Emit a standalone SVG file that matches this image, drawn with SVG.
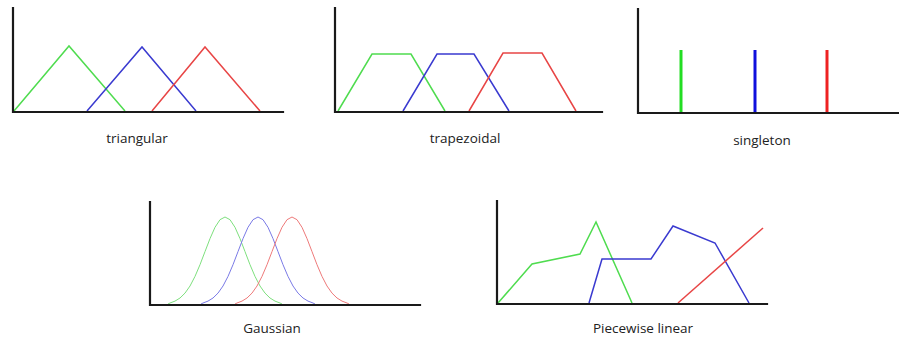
<svg xmlns="http://www.w3.org/2000/svg" xmlns:xlink="http://www.w3.org/1999/xlink" width="899" height="343" viewBox="0 0 899 343">
<style>
.axis{fill:none;stroke:#1a1a1a;stroke-width:2.2;stroke-linecap:square}
.g{fill:none;stroke:#4fdc4f;stroke-width:1.5;stroke-linejoin:miter}
.b{fill:none;stroke:#3a3ad0;stroke-width:1.5}
.r{fill:none;stroke:#e84545;stroke-width:1.5}
.gs{fill:none;stroke-width:1}
.s{stroke-width:3}
.lbl{font-family:"Open Sans","Liberation Sans",sans-serif;font-size:13.5px;fill:#222;text-anchor:middle}
</style>
<defs>
<polyline id="gauss" points="-57,304 -55,303 -50,301.1 -45,298 -40,293.1 -35,286 -30,276.4 -25,264.7 -20,251.6 -15,238.6 -10,227.3 -5,219.7 0,217 5,219.7 10,227.3 15,238.6 20,251.6 25,264.7 30,276.4 35,286 40,293.1 45,298 50,301.1 55,303 57,304"/>
</defs>
<rect width="899" height="343" fill="#fff"/>
<g id="triangular">
<polyline class="g" points="14,111 69,46 125,111"/>
<polyline class="b" points="87,111 142,47 196,111"/>
<polyline class="r" points="152,111 205,47 260,111"/>
<polyline class="axis" points="13,8 13,112 283,112"/>
<text class="lbl" x="137" y="143">triangular</text>
</g>
<g id="trapezoidal">
<polyline class="g" points="338,111 372,54 411,54 445,111"/>
<polyline class="b" points="403,111 437,54 474,54 509,111"/>
<polyline class="r" points="469,111 503,53 542,53 576,111"/>
<polyline class="axis" points="335,8 335,112 602,112"/>
<text class="lbl" x="465" y="143">trapezoidal</text>
</g>
<g id="singleton">
<line class="g s" x1="681" y1="50" x2="681" y2="113" stroke="#22dd22" style="stroke:#22dd22"/>
<line class="b s" x1="755" y1="50" x2="755" y2="113" style="stroke:#1010dd"/>
<line class="r s" x1="827" y1="50" x2="827" y2="113" style="stroke:#ee2222"/>
<polyline class="axis" points="638,9 638,113 899,113"/>
<text class="lbl" x="762" y="145">singleton</text>
</g>
<g id="gaussian">
<use xlink:href="#gauss" href="#gauss" class="gs" stroke="#7ee07e" transform="translate(225,0)"/>
<use xlink:href="#gauss" href="#gauss" class="gs" stroke="#7a7ae6" transform="translate(258,0)"/>
<use xlink:href="#gauss" href="#gauss" class="gs" stroke="#ee7a7a" transform="translate(292,0)"/>
<polyline class="axis" points="150,202 150,305 420,305"/>
<text class="lbl" x="272" y="333">Gaussian</text>
</g>
<g id="piecewise-linear">
<polyline class="g" points="498,303 532,264 580,254 596,222 632,303"/>
<polyline class="b" points="589,303 602,259 651,259 673,226 715,243 749,303"/>
<polyline class="r" points="678,303 763,228"/>
<polyline class="axis" points="497,201 497,304 767,304"/>
<text class="lbl" x="643" y="333">Piecewise linear</text>
</g>
</svg>
